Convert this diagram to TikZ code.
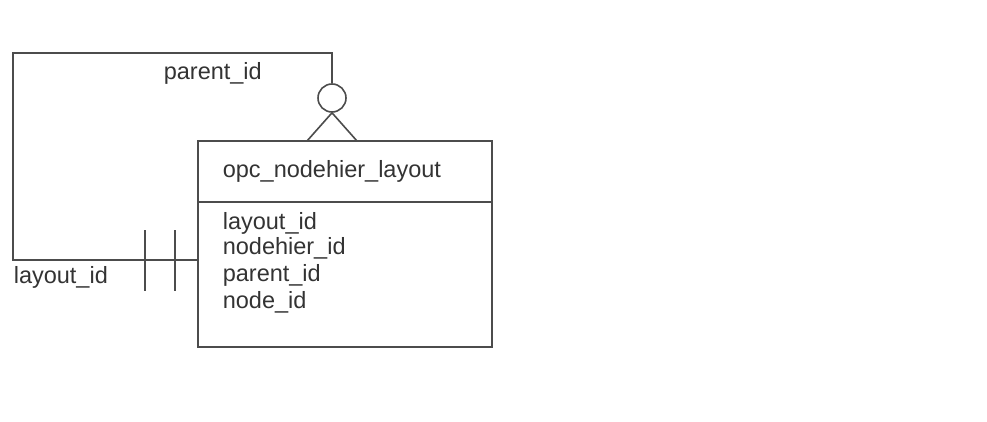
\documentclass[tikz,border=0pt]{standalone}
\usepackage{fontspec}
\setmainfont{Liberation Sans}
\usepackage{tikz}

\begin{document}
\begin{tikzpicture}
  [x=1pt,y=-1pt,line width=1.6pt,draw=black!70,
   lbl/.style={anchor=west,inner sep=0pt,text=black!80,font=\fontsize{23.5}{26}\selectfont},
   ent/.style={draw=black!70,rectangle,minimum width=294pt,minimum height=206pt,inner sep=0pt}]

  \useasboundingbox (0,0) rectangle (987,422);

  \node[style=ent] (box) at (345,244) {};
  \coordinate (d1) at (198,202);
  \coordinate (d2) at (492,202);
  \node[style=lbl] (title) at (222,171) {opc\_nodehier\_layout};
  \node[style=lbl] (a1) at (222,223) {layout\_id};
  \node[style=lbl] (a2) at (222,248) {nodehier\_id};
  \node[style=lbl] (a3) at (222,275) {parent\_id};
  \node[style=lbl] (a4) at (222,302) {node\_id};

  \node[style={circle,draw=black!70,minimum size=28pt,inner sep=0pt}] (opt) at (332,98) {};
  \coordinate (f1) at (307,141);
  \coordinate (f2) at (357,141);
  \coordinate (c1) at (332,53);
  \coordinate (c2) at (13,53);
  \coordinate (c3) at (13,260);
  \coordinate (c4) at (198,260);
  \coordinate (t1) at (145,230);
  \coordinate (t2) at (145,291);
  \coordinate (t3) at (175,230);
  \coordinate (t4) at (175,291);

  \node[style=lbl] (n1) at (163,73) {parent\_id};
  \node[style=lbl] (n2) at (13,277) {layout\_id};

  \draw (d1) -- (d2);
  \draw (opt.north) -- (c1) -- (c2) -- (c3) -- (c4);
  \foreach \from/\to in {opt.south/f1,opt.south/f2,t1/t2,t3/t4}
    \draw (\from) -- (\to);
\end{tikzpicture}
\end{document}
